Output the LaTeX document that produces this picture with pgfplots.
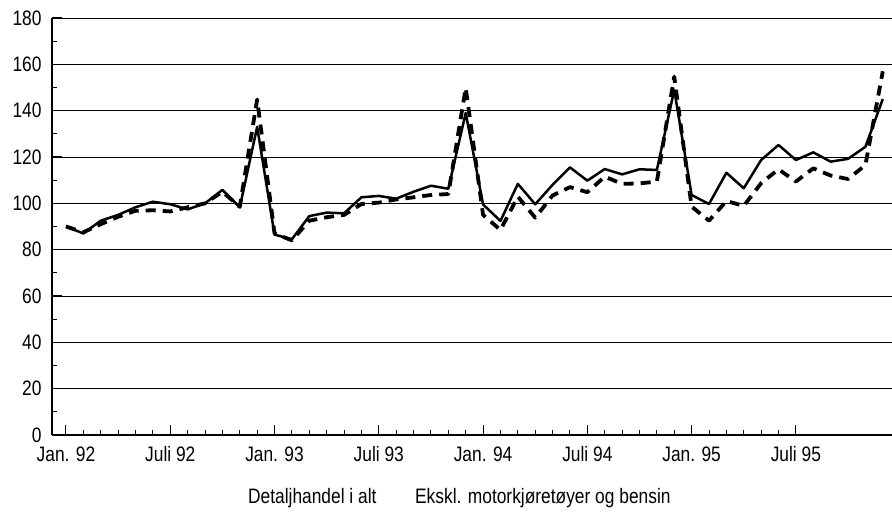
\documentclass[border=0pt]{standalone}
\usepackage{fontspec}
\setmainfont{Liberation Sans}[FakeStretch=0.83]
\usepackage{pgfplots}
\pgfplotsset{compat=1.18}

% month index 0 = Jan. 92
\pgfplotstableread{
m   alt     ekskl
0   90.0    90.0
1   87.0    87.5
2   92.5    91.0
3   95.0    94.2
4   98.3    96.8
5   100.7   97.0
6   99.6    96.5
7   97.4    98.3
8   100.0   100.0
9   105.8   105.0
10  98.3    98.5
11  133.0   144.8
12  86.5    87.0
13  84.5    84.0
14  94.5    92.5
15  96.0    94.0
16  95.7    95.0
17  102.6   99.7
18  103.2   100.3
19  102.0   101.7
20  105.0   102.6
21  107.6   103.6
22  106.3   104.0
23  139.0   149.8
24  99.5    95.0
25  92.4    88.5
26  108.4   102.9
27  99.6    93.8
28  108.0   103.4
29  115.5   107.0
30  109.8   104.8
31  114.8   111.5
32  112.5   108.4
33  114.7   108.6
34  114.4   109.4
35  149.0   154.7
36  103.6   98.6
37  99.7    92.5
38  113.2   101.0
39  106.5   98.9
40  118.7   108.7
41  125.2   114.7
42  118.7   109.4
43  122.0   115.1
44  118.0   112.0
45  119.2   110.5
46  124.4   116.5
47  145.0   157.0
}\salg

\begin{document}
\begin{tikzpicture}
  \begin{axis}[%
      scale only axis,
      width=840bp, height=417bp,
      clip=false,
      axis x line=bottom, axis y line=left,
      axis line style={-, black, line width=1.2bp},
      tick align=inside,
      tick style={black, line width=1bp},
      ticklabel style={font=\fontsize{21}{25}\selectfont},
      xticklabel style={yshift=-8bp},
      yticklabel style={xshift=-7bp},
      /pgf/number format/assume math mode=true,
      % x-axis
      xmin=-0.805, xmax=47.53,
      xtick={0,6,...,42},
      xticklabels={Jan. 92,Juli 92,Jan. 93,Juli 93,Jan. 94,Juli 94,Jan. 95,Juli 95},
      minor x tick num=5,
      major tick length=10bp,
      minor tick length=5bp,
      % y-axis
      ymin=0, ymax=180,
      ytick={0,20,...,180},
      minor y tick num=1,
      ymajorgrids=true,
      grid style={black, line width=0.8bp},
    ]

    \addplot [black, line width=2.5bp, line join=round] table [x=m, y=alt] {\salg};
    \addplot [black, line width=3.8bp, line join=round, dash pattern=on 10bp off 7bp] table [x=m, y=ekskl] {\salg};

    \node [anchor=base west, inner sep=0pt, font=\fontsize{21}{25}\selectfont]
      at (axis cs:10.47,-29.4) {Detaljhandel i alt};
    \node [anchor=base west, inner sep=0pt, font=\fontsize{21}{25}\selectfont]
      at (axis cs:20.08,-29.4) {Ekskl. motorkjøretøyer og bensin};
  \end{axis}
  \pgfresetboundingbox
  \path[use as bounding box] (-52bp,-77bp) rectangle (840bp,435bp);
\end{tikzpicture}
\end{document}
